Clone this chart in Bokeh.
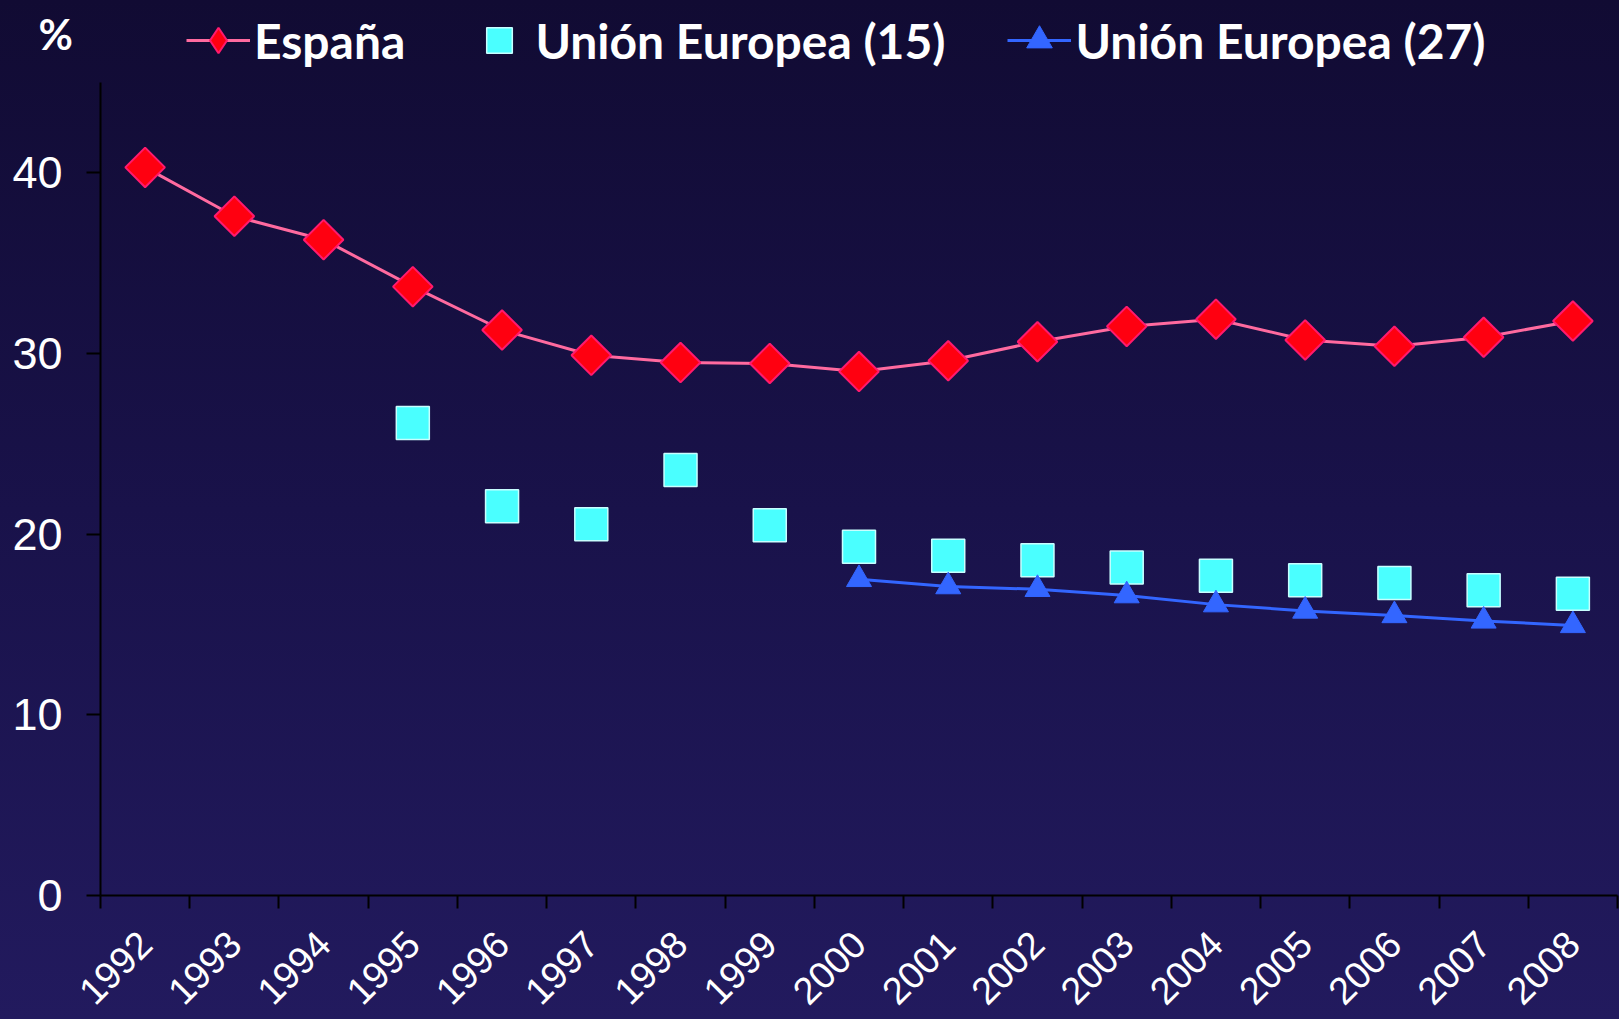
import math
from bokeh.plotting import figure
from bokeh.layouts import column
from bokeh.models import (Range1d, FixedTicker, Legend, LegendItem, LinearAxis, Label)
from bokeh.embed import file_html
from bokeh.resources import INLINE

# ---- data ----
years = ["1992", "1993", "1994", "1995", "1996", "1997", "1998", "1999", "2000",
         "2001", "2002", "2003", "2004", "2005", "2006", "2007", "2008"]
espana = [40.3, 37.6, 36.3, 33.7, 31.3, 29.9, 29.5, 29.45, 29.0,
          29.6, 30.65, 31.5, 31.9, 30.75, 30.4, 30.9, 31.8]
ue15_years = ["1995", "1996", "1997", "1998", "1999", "2000", "2001", "2002",
              "2003", "2004", "2005", "2006", "2007", "2008"]
ue15 = [26.15, 21.55, 20.55, 23.55, 20.5, 19.3, 18.8, 18.55, 18.15,
        17.7, 17.45, 17.3, 16.9, 16.7]
ue27_years = ["2000", "2001", "2002", "2003", "2004", "2005", "2006", "2007", "2008"]
ue27 = [17.5, 17.1, 16.95, 16.6, 16.1, 15.75, 15.5, 15.2, 14.95]
y_ticks = [0, 10, 20, 30, 40]
unit_label = "%"
labels = ["España", "Unión Europea (15)", "Unión Europea (27)"]

# ---- styles ----
es_line = dict(line_color="#ff6a9f", line_width=3)
es_mark = dict(fill_color="#ff0010", line_color="#ff1a6e", line_width=2)
u15_mark = dict(marker="square", fill_color="#4affff", line_color="#c8ffff", line_width=1.5)
u27_line = dict(line_color="#3366ff", line_width=3)
u27_mark = dict(marker="triangle", fill_color="#3366ff", line_color="#3366ff", line_width=1)

# category centres on a numeric axis (boundaries carry the tick marks)
pos = {y: i + 0.5 for i, y in enumerate(years)}
x_es = [pos[y] for y in years]
x_15 = [pos[y] for y in ue15_years]
x_27 = [pos[y] for y in ue27_years]

# ---- header strip: unit and legend (series repeated, outside its view) ----
head = figure(width=1619, height=82, output_backend="svg", toolbar_location=None,
              x_range=Range1d(0, 1), y_range=Range1d(0, 1),
              x_axis_type=None, y_axis_type=None, min_border=0)
head.frame_align = False
head.background_fill_color = None
head.border_fill_color = None
head.outline_line_color = None
head.grid.visible = False
h_es_l = head.line(x_es, espana, **es_line)
h_es_m = head.scatter(x_es, espana, marker="diamond", **es_mark)
h_15_m = head.scatter(x_15, ue15, **u15_mark)
h_27_l = head.line(x_27, ue27, **u27_line)
h_27_m = head.scatter(x_27, ue27, **u27_mark)
legend = Legend(items=[LegendItem(label=labels[0], renderers=[h_es_l, h_es_m]),
                       LegendItem(label=labels[1], renderers=[h_15_m]),
                       LegendItem(label=labels[2], renderers=[h_27_l, h_27_m])],
                orientation="horizontal", location=(186, 7),
                padding=0, margin=0, spacing=62, label_standoff=4,
                glyph_width=64, glyph_height=70,
                background_fill_alpha=0, border_line_alpha=0,
                label_text_font="Lato", label_text_font_style="bold",
                label_text_font_size="48px", label_text_color="white")
head.add_layout(legend, "center")
head.add_layout(Label(x=38, y=49, x_units="screen", y_units="screen", text=unit_label,
                      text_font="Lato", text_font_style="bold", text_font_size="42px",
                      text_color="white", text_baseline="middle"))

# ---- main chart ----
p = figure(width=1619, height=937, output_backend="svg", toolbar_location=None,
           x_range=Range1d(0, len(years)), y_range=Range1d(0, 45),
           min_border_left=100, min_border_right=2, min_border_top=0,
           min_border_bottom=121, x_axis_type=None, y_axis_type=None)
p.frame_align = False
p.background_fill_color = None
p.border_fill_color = None
p.outline_line_color = None

xaxis = LinearAxis(ticker=FixedTicker(ticks=x_es, minor_ticks=list(range(len(years) + 1))))
xaxis.major_label_overrides = {pos[y]: y for y in years}
xaxis.major_tick_out = 0
xaxis.major_tick_in = 0
xaxis.minor_tick_out = 13
xaxis.minor_tick_in = 0
xaxis.minor_tick_line_color = "black"
xaxis.minor_tick_line_width = 2
xaxis.axis_line_color = "black"
xaxis.axis_line_width = 2
xaxis.major_label_orientation = math.pi / 4
xaxis.major_label_text_font = "Liberation Sans"
xaxis.major_label_text_font_size = "38px"
xaxis.major_label_text_color = "white"
xaxis.major_label_standoff = 29
p.add_layout(xaxis, "below")

yaxis = LinearAxis(ticker=FixedTicker(ticks=y_ticks))
yaxis.major_tick_out = 14
yaxis.major_tick_in = 0
yaxis.major_tick_line_color = "black"
yaxis.major_tick_line_width = 2
yaxis.minor_tick_line_color = None
yaxis.axis_line_color = "black"
yaxis.axis_line_width = 2
yaxis.major_label_text_font = "Liberation Sans"
yaxis.major_label_text_font_size = "45px"
yaxis.major_label_text_color = "white"
yaxis.major_label_standoff = 24
p.add_layout(yaxis, "left")

p.xgrid.grid_line_color = None
p.ygrid.ticker = FixedTicker(ticks=y_ticks[1:])
p.ygrid.grid_line_color = "#cffcff"
p.ygrid.grid_line_width = 2

p.line(x_es, espana, **es_line)
p.scatter(x_es, espana, marker="square", angle=math.pi / 4, size=28, **es_mark)
p.scatter(x_15, ue15, size=33, **u15_mark)
p.line(x_27, ue27, **u27_line)
p.scatter(x_27, ue27, size=25, **u27_mark)

page = column(head, p, spacing=0)
page.styles = {"background": "linear-gradient(to bottom, #110b33 0%, #19124a 50%, #221a5e 100%)"}

open("out.html", "w").write(file_html(page, INLINE))
